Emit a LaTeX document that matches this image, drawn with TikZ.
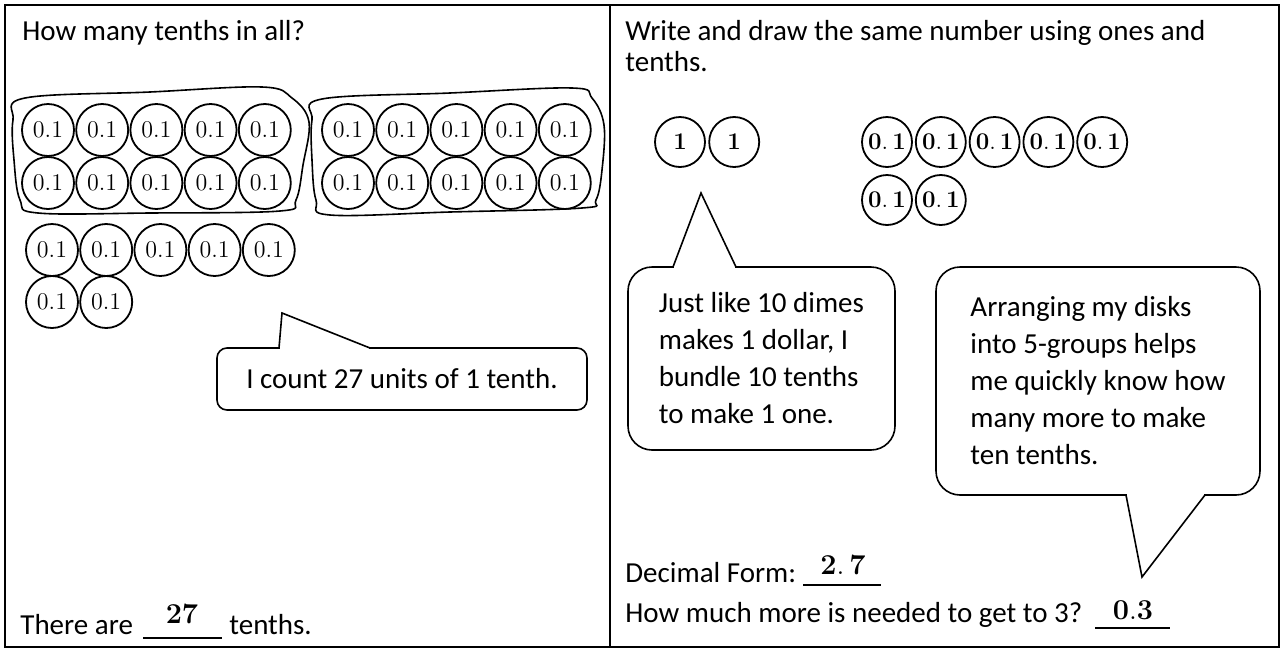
\documentclass[tikz,border=0pt]{standalone}
\usepackage[no-math]{fontspec}
\setmainfont{Carlito}
\usetikzlibrary{positioning}

\begin{document}
\begin{tikzpicture} [x=0.5pt, y=-0.5pt,
		every node/.style={inner sep=0pt, node distance=0.2pt, anchor=west,
			font=\fontsize{14.5}{18.5}\selectfont},
		tenth/.style={draw, circle, line width=0.9pt, minimum size=26pt, anchor=center,
			font=\fontsize{13}{14}\selectfont},
		boldtenth/.style={tenth, minimum size=25pt, font=\fontsize{13}{14}\selectfont},
		group/.style={line width=0.8pt},
		callout/.style={draw, line width=0.8pt, anchor=center, align=left},
		pointer/.style={line width=0.8pt},
		cover/.style={white, line width=1.8pt, shorten <=0.6pt, shorten >=0.6pt},
		blank/.style={line width=0.6pt},
		answer/.style={anchor=center, font=\fontsize{14}{14}\selectfont}
	]
	\useasboundingbox (0,0) rectangle (1281,649);
	\draw[line width=0.7pt] (5,5) rectangle (1279,647);
	\draw[line width=0.6pt] (610,5) -- (610,647);

	% left half
	\node (title1) at (22,33) {How many tenths in all?};

	\node (a1) [tenth] at (48,130) {$0.1$};
	\node (a2) [tenth, right=of a1] {$0.1$};
	\node (a3) [tenth, right=of a2] {$0.1$};
	\node (a4) [tenth, right=of a3] {$0.1$};
	\node (a5) [tenth, right=of a4] {$0.1$};
	\node (a6) [tenth] at (48,183) {$0.1$};
	\node (a7) [tenth, right=of a6] {$0.1$};
	\node (a8) [tenth, right=of a7] {$0.1$};
	\node (a9) [tenth, right=of a8] {$0.1$};
	\node (a10) [tenth, right=of a9] {$0.1$};
	\draw[group] plot[smooth cycle, tension=0.6] coordinates {(13,120) (25,98) (150,92)
		(262,87) (292,98) (309,122) (303,165) (296,200) (280,211) (150,213) (38,213)
		(20,200) (14,160)};

	\node (b1) [tenth] at (348,130) {$0.1$};
	\node (b2) [tenth, right=of b1] {$0.1$};
	\node (b3) [tenth, right=of b2] {$0.1$};
	\node (b4) [tenth, right=of b3] {$0.1$};
	\node (b5) [tenth, right=of b4] {$0.1$};
	\node (b6) [tenth] at (348,183) {$0.1$};
	\node (b7) [tenth, right=of b6] {$0.1$};
	\node (b8) [tenth, right=of b7] {$0.1$};
	\node (b9) [tenth, right=of b8] {$0.1$};
	\node (b10) [tenth, right=of b9] {$0.1$};
	\draw[group] plot[smooth cycle, tension=0.6] coordinates {(312,120) (322,99) (450,93)
		(572,88) (592,98) (604,125) (602,170) (596,200) (582,208) (450,212) (330,215)
		(316,200) (312,160)};

	\node (c1) [tenth] at (52,250) {$0.1$};
	\node (c2) [tenth, right=of c1] {$0.1$};
	\node (c3) [tenth, right=of c2] {$0.1$};
	\node (c4) [tenth, right=of c3] {$0.1$};
	\node (c5) [tenth, right=of c4] {$0.1$};
	\node (c6) [tenth] at (52,302) {$0.1$};
	\node (c7) [tenth, right=of c6] {$0.1$};

	\node (count) [callout, rounded corners=5pt, minimum width=185pt, minimum height=31pt]
		at (402,379) {I count 27 units of 1 tenth.};
	\coordinate (countl) at (279,348);
	\coordinate (counttip) at (282,313);
	\coordinate (countr) at (370,348);
	\draw[cover] (countl) -- (countr);
	\draw[pointer] (countl) -- (counttip) -- (countr);

	\node (thereare) at (20,625) {There are};
	\coordinate (b27l) at (143,638);
	\coordinate (b27r) at (222,638);
	\draw[blank] (b27l) -- (b27r);
	\node (n27) [answer, font=\fontsize{15}{15}\selectfont] at (182,614) {$\mathbf{27}$};
	\node (tenths) at (229,625) {tenths.};

	% right half
	\node (title2) [anchor=north west, align=left, font=\fontsize{14.5}{15.5}\selectfont]
		at (625,20) {Write and draw the same number using ones and\\tenths.};

	\node (o1) [boldtenth] at (680,142) {$\mathbf{1}$};
	\node (o2) [boldtenth, right=1.2pt of o1] {$\mathbf{1}$};

	\node (r1) [boldtenth] at (887,142) {$\mathbf{0.\,1}$};
	\node (r2) [boldtenth, right=1pt of r1] {$\mathbf{0.\,1}$};
	\node (r3) [boldtenth, right=1pt of r2] {$\mathbf{0.\,1}$};
	\node (r4) [boldtenth, right=1pt of r3] {$\mathbf{0.\,1}$};
	\node (r5) [boldtenth, right=1pt of r4] {$\mathbf{0.\,1}$};
	\node (r6) [boldtenth] at (887,200) {$\mathbf{0.\,1}$};
	\node (r7) [boldtenth, right=1pt of r6] {$\mathbf{0.\,1}$};

	\node (dimes) [callout, rounded corners=12pt, minimum width=133.5pt, minimum height=91.5pt]
		at (761.5,358.5) {Just like 10 dimes\\makes 1 dollar, I\\bundle 10 tenths\\to make 1 one.};
	\coordinate (dimesl) at (673,267);
	\coordinate (dimestip) at (701,193);
	\coordinate (dimesr) at (736,267);
	\draw[cover] (dimesl) -- (dimesr);
	\draw[pointer] (dimesl) -- (dimestip) -- (dimesr);

	\node (disks) [callout, rounded corners=12pt, minimum width=162pt, minimum height=114pt]
		at (1098,381) {Arranging my disks\\into 5-groups helps\\me quickly know how\\many more to make\\ten tenths.};
	\coordinate (disksl) at (1126,495);
	\coordinate (diskstip) at (1142,577);
	\coordinate (disksr) at (1205,495);
	\draw[cover] (disksl) -- (disksr);
	\draw[pointer] (disksl) -- (diskstip) -- (disksr);

	\node (decform) at (625,573) {Decimal Form:};
	\coordinate (bdecl) at (803,585);
	\coordinate (bdecr) at (881,585);
	\draw[blank] (bdecl) -- (bdecr);
	\node (ndec) [answer] at (843,565) {$\mathbf{2.\,7}$};

	\node (howmuch) at (625,615) {How much more is needed to get to 3?};
	\coordinate (bmorel) at (1095,628);
	\coordinate (bmorer) at (1170,628);
	\draw[blank] (bmorel) -- (bmorer);
	\node (nmore) [answer] at (1133,610) {$\mathbf{0.3}$};

\end{tikzpicture}
\end{document}
